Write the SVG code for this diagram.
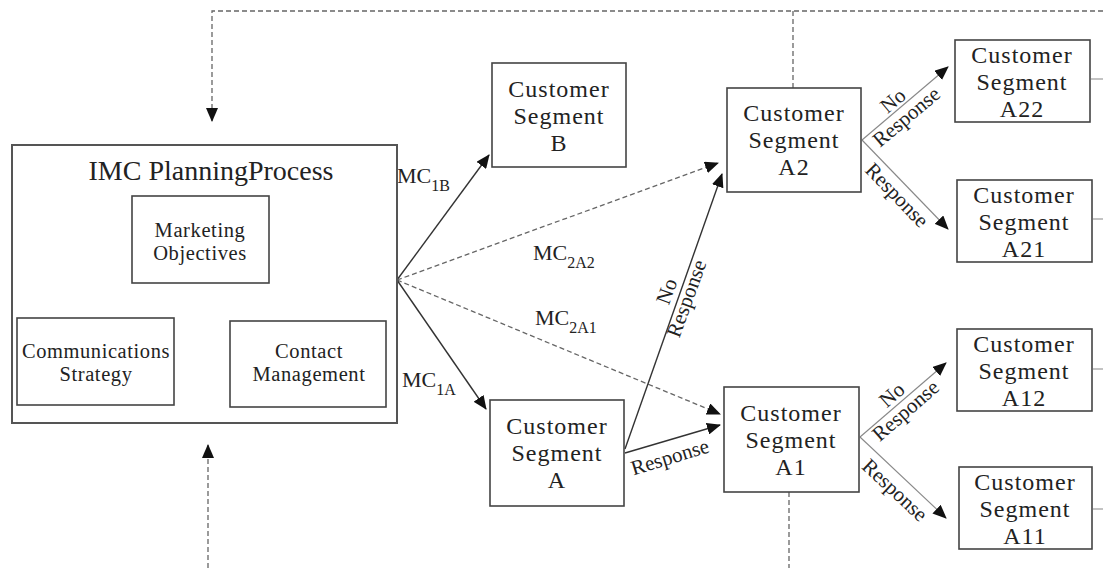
<svg xmlns="http://www.w3.org/2000/svg" width="1103" height="568" viewBox="0 0 1103 568">
<style>
.box{fill:#fff;stroke:#444;stroke-width:1.6}
.t{font-family:"Liberation Serif","Times New Roman",serif;fill:#222;text-anchor:middle}
.big{font-size:24px;letter-spacing:1px}
.mid{font-size:20.5px;letter-spacing:0.6px}
.lab{font-family:"Liberation Serif","Times New Roman",serif;fill:#222;font-size:22px}
.rl{font-family:"Liberation Serif","Times New Roman",serif;fill:#222;font-size:21px;text-anchor:middle}
.sol{stroke:#333;stroke-width:1.4;fill:none}
.dsh{stroke:#666;stroke-width:1.3;fill:none;stroke-dasharray:5 3}
.thin{stroke:#888;stroke-width:1.1;fill:none}
</style>
<defs>
<marker id="ah" markerUnits="userSpaceOnUse" markerWidth="14" markerHeight="12" refX="13" refY="6" orient="auto-start-reverse" viewBox="0 0 14 12">
<path d="M0,0 L14,6 L0,12 z" fill="#111"/>
</marker>
<marker id="as" markerUnits="userSpaceOnUse" markerWidth="12" markerHeight="10" refX="11" refY="5" orient="auto-start-reverse" viewBox="0 0 12 10">
<path d="M0,0 L12,5 L0,10 z" fill="#111"/>
</marker>
</defs>

<g id="connectors">
<path class="dsh" d="M1103,11 L212,11 L212,121" marker-end="url(#ah)"/>
<path class="dsh" d="M793,11 L793,88"/>
<path class="dsh" d="M789,492 L789,568"/>
<path class="dsh" d="M208,568 L208,445" marker-end="url(#ah)"/>
<path class="thin" d="M1091,79 L1103,79 M1093,219 L1103,219 M1093,369 L1103,369 M1093,509 L1103,509"/>
<path class="sol" d="M182,363 L224,363" marker-start="url(#as)" marker-end="url(#as)"/>
<path class="sol" d="M152,315 L182,286" marker-start="url(#as)" marker-end="url(#as)"/>
<path class="sol" d="M224,285 L257,315" marker-start="url(#as)" marker-end="url(#as)"/>
<path class="sol" d="M397,280 L489,155" marker-end="url(#ah)"/>
<path class="dsh" d="M397,280 L718,163" marker-end="url(#ah)"/>
<path class="dsh" d="M397,280 L720,414" marker-end="url(#ah)"/>
<path class="sol" d="M397,280 L486,409" marker-end="url(#ah)"/>
<path class="sol" d="M625,449 L722,174" marker-end="url(#ah)"/>
<path class="sol" d="M625,453 L720,425" marker-end="url(#ah)"/>
<path class="thin" d="M862,140 L948,67" marker-end="url(#ah)"/>
<path class="thin" d="M862,140 L948,229" marker-end="url(#ah)"/>
<path class="thin" d="M860,437 L946,363" marker-end="url(#ah)"/>
<path class="thin" d="M860,437 L946,518" marker-end="url(#ah)"/>

<text class="lab" x="397" y="183">MC<tspan font-size="16" dy="8">1B</tspan></text>
<text class="lab" x="533" y="260">MC<tspan font-size="16" dy="8">2A2</tspan></text>
<text class="lab" x="535" y="325">MC<tspan font-size="16" dy="8">2A1</tspan></text>
<text class="lab" x="402" y="387">MC<tspan font-size="16" dy="8">1A</tspan></text>

<g transform="translate(670,457) rotate(-17)"><text class="rl" x="0" y="7">Response</text></g>
<g transform="translate(677,295) rotate(-70)"><text class="rl" y="-4"><tspan x="0">No</tspan><tspan x="0" dy="21">Response</tspan></text></g>
<g transform="translate(900,109) rotate(-40)"><text class="rl" y="-4"><tspan x="0">No</tspan><tspan x="0" dy="21">Response</tspan></text></g>
<g transform="translate(897,195) rotate(46)"><text class="rl" x="0" y="7">Response</text></g>
<g transform="translate(899,403) rotate(-41)"><text class="rl" y="-4"><tspan x="0">No</tspan><tspan x="0" dy="21">Response</tspan></text></g>
<g transform="translate(895,490) rotate(43)"><text class="rl" x="0" y="7">Response</text></g>
</g>

<g id="imc">
<rect class="box" x="12" y="145" width="385" height="278" style="stroke:#555;stroke-width:2"/>
<text class="t" x="211" y="180" font-size="28">IMC PlanningProcess</text>
</g>
<g id="marketing-objectives">
<rect class="box" x="132" y="196" width="137" height="87"/>
<text class="t mid" y="237"><tspan x="200">Marketing</tspan><tspan x="200" dy="23">Objectives</tspan></text>
</g>
<g id="communications-strategy">
<rect class="box" x="17" y="318" width="157" height="87"/>
<text class="t mid" y="358"><tspan x="96" textLength="148" lengthAdjust="spacingAndGlyphs">Communications</tspan><tspan x="96" dy="23">Strategy</tspan></text>
</g>
<g id="contact-management">
<rect class="box" x="230" y="321" width="156" height="86"/>
<text class="t mid" y="358"><tspan x="309">Contact</tspan><tspan x="309" dy="23">Management</tspan></text>
</g>

<g id="seg-b">
<rect class="box" x="492" y="63" width="134" height="104"/>
<text class="t big" y="97"><tspan x="559">Customer</tspan><tspan x="559" dy="27">Segment</tspan><tspan x="559" dy="27">B</tspan></text>
</g>
<g id="seg-a">
<rect class="box" x="490" y="400" width="134" height="106"/>
<text class="t big" y="434"><tspan x="557">Customer</tspan><tspan x="557" dy="27">Segment</tspan><tspan x="557" dy="27">A</tspan></text>
</g>
<g id="seg-a2">
<rect class="box" x="727" y="88" width="134" height="104"/>
<text class="t big" y="121"><tspan x="794">Customer</tspan><tspan x="794" dy="27">Segment</tspan><tspan x="794" dy="27">A2</tspan></text>
</g>
<g id="seg-a1">
<rect class="box" x="724" y="387" width="135" height="105"/>
<text class="t big" y="421"><tspan x="791">Customer</tspan><tspan x="791" dy="27">Segment</tspan><tspan x="791" dy="27">A1</tspan></text>
</g>
<g id="seg-a22">
<rect class="box" x="955" y="40" width="135" height="82"/>
<text class="t big" y="63"><tspan x="1022">Customer</tspan><tspan x="1022" dy="27">Segment</tspan><tspan x="1022" dy="27">A22</tspan></text>
</g>
<g id="seg-a21">
<rect class="box" x="957" y="180" width="135" height="82"/>
<text class="t big" y="203"><tspan x="1024">Customer</tspan><tspan x="1024" dy="27">Segment</tspan><tspan x="1024" dy="27">A21</tspan></text>
</g>
<g id="seg-a12">
<rect class="box" x="957" y="329" width="135" height="82"/>
<text class="t big" y="352"><tspan x="1024">Customer</tspan><tspan x="1024" dy="27">Segment</tspan><tspan x="1024" dy="27">A12</tspan></text>
</g>
<g id="seg-a11">
<rect class="box" x="959" y="467" width="133" height="82"/>
<text class="t big" y="490"><tspan x="1025">Customer</tspan><tspan x="1025" dy="27">Segment</tspan><tspan x="1025" dy="27">A11</tspan></text>
</g>
</svg>
